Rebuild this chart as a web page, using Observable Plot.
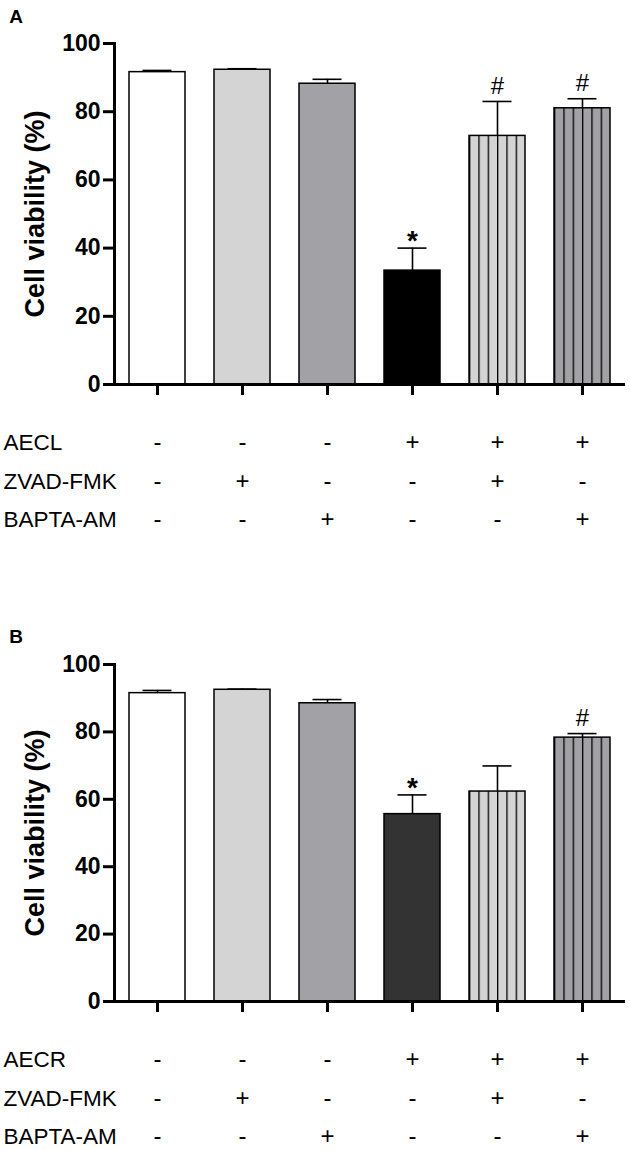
<!DOCTYPE html>
<html>
<head>
<meta charset="utf-8">
<script src="https://cdn.jsdelivr.net/npm/d3@7"></script>
<script src="https://cdn.jsdelivr.net/npm/@observablehq/plot@0.6"></script>
<style>
  html, body { margin: 0; padding: 0; background: #fff; }
  #chart { width: 630px; }
  #chart svg { display: block; }
</style>
</head>
<body>
<div id="chart"></div>
<script>
// ---- data ----
const groups = ["1", "2", "3", "4", "5", "6"];
const yTicks = [0, 20, 40, 60, 80, 100];
const yLabel = "Cell viability (%)";

const panelALetter = "A";
const meansA = [91.6, 92.3, 88.2, 33.4, 72.9, 81.0];
const errsA  = [0.5, 0.3, 1.3, 6.6, 10.1, 2.8];
const sigA   = ["", "", "", "*", "#", "#"];
const rowNamesA = ["AECL", "ZVAD-FMK", "BAPTA-AM"];

const panelBLetter = "B";
const meansB = [91.5, 92.5, 88.5, 55.6, 62.3, 78.3];
const errsB  = [0.8, 0.2, 1.1, 5.7, 7.6, 1.2];
const sigB   = ["", "", "", "*", "", "#"];
const rowNamesB = ["AECR", "ZVAD-FMK", "BAPTA-AM"];

const treatRows = [
  ["-", "-", "-", "+", "+", "+"],
  ["-", "+", "-", "-", "+", "-"],
  ["-", "-", "+", "-", "-", "+"]
];

// ---- styles ----
const FONT = "Arial, 'Liberation Sans', Helvetica, sans-serif";
const LIGHT = "#d4d4d4", MID = "#a2a2a6";

function panel({letter, means, errs, sig, rowNames, darkFill, id, height, marginTop, marginBottom, letterDy}) {
  const fills = ["#ffffff", LIGHT, MID, darkFill, `url(#${id}-light)`, `url(#${id}-mid)`];
  const data = groups.map((g, i) => ({group: g, mean: means[i], err: errs[i], sig: sig[i], fill: fills[i]}));
  const rowDy = [58, 97, 135];
  const signMarks = treatRows.map((row, r) =>
    Plot.text(groups.map((g, i) => ({group: g, s: row[i]})), {
      x: "group", frameAnchor: "bottom", text: "s", dy: rowDy[r],
      fontSize: 24, textAnchor: "middle", lineAnchor: "middle", fill: "black"
    })
  );
  const nameMarks = rowNames.map((name, r) =>
    Plot.text([name], {
      frameAnchor: "bottom-left", dx: -111, dy: rowDy[r], textAnchor: "start",
      lineAnchor: "middle", fontSize: 22.5, fill: "black"
    })
  );
  const svg = Plot.plot({
    width: 630, height, marginLeft: 114, marginRight: 5, marginTop, marginBottom,
    style: {fontFamily: FONT, background: "white", color: "black", overflow: "visible"},
    x: {domain: groups, paddingInner: 0.34, paddingOuter: 0.17, axis: null},
    y: {domain: [0, 100], axis: null},
    color: {type: "identity"},
    marks: [
      Plot.barY(data, {x: "group", y: "mean", fill: "fill", stroke: "black", strokeWidth: 1.5}),
      Plot.ruleX(data, {x: "group", y1: "mean", y2: d => d.mean + d.err, stroke: "black", strokeWidth: 1.6}),
      Plot.tickY(data, {x: "group", y: d => d.mean + d.err, insetLeft: 13.5, insetRight: 13.5, stroke: "black", strokeWidth: 1.6}),
      Plot.text(data.filter(d => d.sig === "#"), {x: "group", y: d => d.mean + d.err, text: "sig", dy: -15, fontSize: 24, lineAnchor: "middle", fill: "black"}),
      Plot.text(data.filter(d => d.sig === "*"), {x: "group", y: d => d.mean + d.err, text: "sig", dy: -7, fontSize: 28, fontWeight: "bold", lineAnchor: "middle", fill: "black"}),
      Plot.ruleY([0], {stroke: "black", strokeWidth: 3}),
      Plot.frame({anchor: "left", stroke: "black", strokeWidth: 3}),
      Plot.axisY({ticks: yTicks, tickSize: 11, tickPadding: 3, strokeWidth: 3, fontSize: 23, fontWeight: "bold", label: null, fill: "black"}),
      Plot.axisX({tickSize: 11, strokeWidth: 3, tickFormat: () => "", label: null}),
      Plot.text([yLabel], {frameAnchor: "left", dx: -79, rotate: -90, fontSize: 27, fontWeight: "bold", textAnchor: "middle", lineAnchor: "middle", fill: "black"}),
      Plot.text([letter], {frameAnchor: "top-left", dx: -98.5, dy: letterDy, fontSize: 19, fontWeight: "bold", textAnchor: "middle", lineAnchor: "middle", fill: "black"}),
      ...signMarks,
      ...nameMarks
    ]
  });
  const defs = `<defs>
    <pattern id="${id}-light" patternUnits="objectBoundingBox" width="0.1666667" height="1">
      <rect x="0" y="0" width="100" height="2000" fill="${LIGHT}"/>
      <line x1="0" x2="0" y1="0" y2="2000" stroke="black" stroke-width="2.6"/>
    </pattern>
    <pattern id="${id}-mid" patternUnits="objectBoundingBox" width="0.1666667" height="1">
      <rect x="0" y="0" width="100" height="2000" fill="${MID}"/>
      <line x1="0" x2="0" y1="0" y2="2000" stroke="black" stroke-width="2.6"/>
    </pattern>
  </defs>`;
  svg.insertAdjacentHTML("afterbegin", defs);
  return svg;
}

const chart = document.getElementById("chart");
chart.appendChild(panel({letter: panelALetter, means: meansA, errs: errsA, sig: sigA, rowNames: rowNamesA,
  darkFill: "#000000", id: "pa", height: 575, marginTop: 43, marginBottom: 191, letterDy: -27}));
chart.appendChild(panel({letter: panelBLetter, means: meansB, errs: errsB, sig: sigB, rowNames: rowNamesB,
  darkFill: "#333333", id: "pb", height: 575, marginTop: 89, marginBottom: 149, letterDy: -28}));
</script>
</body>
</html>
